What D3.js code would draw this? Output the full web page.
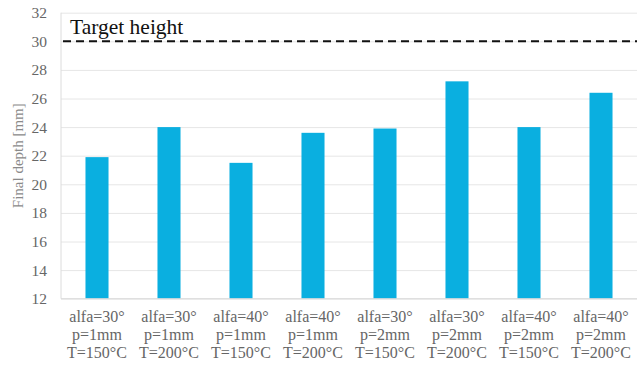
<!DOCTYPE html>
<html>
<head>
<meta charset="utf-8">
<script src="https://cdn.jsdelivr.net/npm/d3@7"></script>
<style>
  html, body { margin: 0; padding: 0; background: #fff; }
  svg { display: block; }
</style>
</head>
<body>
<svg id="chart" width="638" height="365"></svg>
<script>
// Experimental settings (three-line labels) and measured final depth
const alfa = ["alfa=30°", "alfa=30°", "alfa=40°", "alfa=40°", "alfa=30°", "alfa=30°", "alfa=40°", "alfa=40°"];
const pitch = ["p=1mm", "p=1mm", "p=1mm", "p=1mm", "p=2mm", "p=2mm", "p=2mm", "p=2mm"];
const temp = ["T=150°C", "T=200°C", "T=150°C", "T=200°C", "T=150°C", "T=200°C", "T=150°C", "T=200°C"];
const finalDepth = [21.9, 24.0, 21.5, 23.6, 23.9, 27.2, 24.0, 26.4];
const yTicks = [12, 14, 16, 18, 20, 22, 24, 26, 28, 30, 32];
const targetHeight = 30;
const targetLabel = "Target height";
const yTitle = "Final depth [mm]";

const SERIF = '"Liberation Serif"';
const svg = d3.select("#chart");
const margin = { top: 12.7, right: 1, bottom: 66.3, left: 61 };
const W = 638, H = 365;
const innerW = W - margin.left - margin.right;
const innerH = H - margin.top - margin.bottom;

const idx = finalDepth.map((d, i) => i);
const x = d3.scaleBand().domain(idx).range([0, innerW]).paddingInner(0.68).paddingOuter(0.34);
const y = d3.scaleLinear().domain([12, 32]).range([innerH, 0]);

const g = svg.append("g").attr("transform", `translate(${margin.left},${margin.top})`);

// Horizontal gridlines
g.append("g")
  .call(d3.axisLeft(y).tickValues(yTicks).tickSize(-innerW).tickFormat(""))
  .call(s => s.select(".domain").remove())
  .call(s => s.selectAll("line").attr("stroke", "#e6e6e6").attr("stroke-width", 1));

// Plot frame on the left
g.append("line").attr("x1", 0).attr("x2", 0).attr("y1", 0).attr("y2", innerH)
  .attr("stroke", "#dcdcdc").attr("stroke-width", 1);

// Y tick labels
g.append("g")
  .call(d3.axisLeft(y).tickValues(yTicks).tickSize(0).tickPadding(14).tickFormat(d3.format("d")))
  .call(s => s.select(".domain").remove())
  .call(s => s.selectAll("text")
    .style("font-family", SERIF).style("font-size", "15.5px").attr("fill", "#666"));

// Bars
g.selectAll("rect.bar").data(finalDepth).join("rect")
  .attr("class", "bar")
  .attr("x", (d, i) => x(i))
  .attr("width", x.bandwidth())
  .attr("y", d => y(d))
  .attr("height", d => innerH - y(d))
  .attr("fill", "#0aafe0");

// Bottom axis line
g.append("line").attr("x1", 0).attr("x2", innerW).attr("y1", innerH).attr("y2", innerH)
  .attr("stroke", "#d9d9d9").attr("stroke-width", 1);

// Category labels: one text per line so each line stands alone
const lines = [alfa, pitch, temp];
const labels = g.append("g").attr("transform", `translate(0,${innerH})`);
lines.forEach((arr, li) => {
  labels.selectAll(`text.l${li}`).data(idx).join("text")
    .attr("class", `l${li}`)
    .attr("x", i => x(i) + x.bandwidth() / 2)
    .attr("y", 23 + li * 18)
    .attr("text-anchor", "middle")
    .style("font-family", SERIF).style("font-size", "16px").attr("fill", "#666")
    .text(i => arr[i]);
});

// Target height reference line
g.append("line")
  .attr("x1", 2).attr("x2", innerW)
  .attr("y1", y(targetHeight)).attr("y2", y(targetHeight))
  .attr("stroke", "#111").attr("stroke-width", 2)
  .attr("stroke-dasharray", "8,5");
g.append("text")
  .attr("x", 9).attr("y", y(targetHeight) - 7)
  .style("font-family", SERIF).style("font-size", "21.5px").attr("fill", "#111")
  .text(targetLabel);

// Y axis title
svg.append("text")
  .attr("transform", `translate(23,${margin.top + y(22)}) rotate(-90)`)
  .attr("text-anchor", "middle")
  .style("font-family", SERIF).style("font-size", "15px").attr("fill", "#8a8a8a")
  .text(yTitle);
</script>
</body>
</html>
